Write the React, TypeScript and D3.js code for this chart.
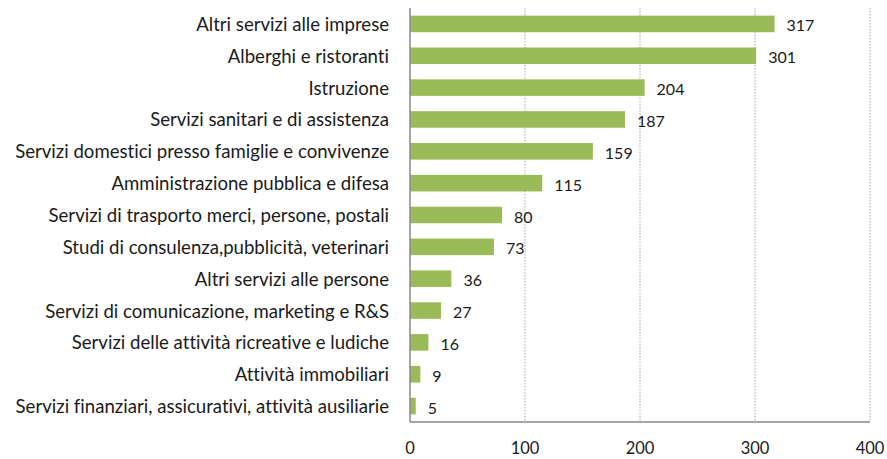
import React from "react";
import * as d3 from "d3";

const categories = [
  "Altri servizi alle imprese",
  "Alberghi e ristoranti",
  "Istruzione",
  "Servizi sanitari e di assistenza",
  "Servizi domestici presso famiglie e convivenze",
  "Amministrazione pubblica e difesa",
  "Servizi di trasporto merci, persone, postali",
  "Studi di consulenza,pubblicità, veterinari",
  "Altri servizi alle persone",
  "Servizi di comunicazione, marketing e R&S",
  "Servizi delle attività ricreative e ludiche",
  "Attività immobiliari",
  "Servizi finanziari, assicurativi, attività ausiliarie",
];
const values = [317, 301, 204, 187, 159, 115, 80, 73, 36, 27, 16, 9, 5];
const ticks = [0, 100, 200, 300, 400];

const width = 887;
const height = 459;
const margin = { top: 8, right: 17, bottom: 37, left: 410 };
const font = "Lato, 'Open Sans', sans-serif";

export default function App() {
  const x = d3
    .scaleLinear()
    .domain([0, 400])
    .range([margin.left, width - margin.right]);
  const y = d3
    .scaleBand()
    .domain(categories)
    .range([margin.top, height - margin.bottom])
    .paddingInner(0.48)
    .paddingOuter(0.24);

  const y0 = margin.top;
  const y1 = height - margin.bottom;

  return (
    <svg
      width={width}
      height={height}
      style={{
        position: "absolute",
        left: 0,
        top: 0,
        background: "white",
        fontVariantLigatures: "none",
      }}
      fontFamily={font}
    >
      {/* gridlines */}
      {ticks.slice(1).map((t) => (
        <line
          key={t}
          x1={x(t)}
          x2={x(t)}
          y1={y0}
          y2={y1}
          stroke="#a6a6a6"
          strokeDasharray="1.5,1.5"
        />
      ))}
      {/* bars */}
      {categories.map((c, i) => (
        <rect
          key={c}
          x={x(0)}
          y={y(c)}
          width={x(values[i]) - x(0)}
          height={y.bandwidth()}
          fill="#9bbb59"
        />
      ))}
      {/* axes */}
      <line x1={x(0)} x2={x(0)} y1={y0} y2={y1} stroke="#888" strokeWidth={1.5} />
      <line x1={x(0)} x2={x(400)} y1={y1} y2={y1} stroke="#888" strokeWidth={1.5} />
      {/* category labels */}
      {categories.map((c) => (
        <text
          key={c}
          x={x(0) - 21}
          y={y(c)! + y.bandwidth() / 2}
          textAnchor="end"
          dominantBaseline="central"
          fontSize={18.6}
          fill="#1a1a1a"
        >
          {c}
        </text>
      ))}
      {/* value labels */}
      {categories.map((c, i) => (
        <text
          key={c}
          x={x(values[i]) + 12}
          y={y(c)! + y.bandwidth() / 2 + 1}
          dominantBaseline="central"
          fontSize={16}
          fill="#1a1a1a"
        >
          {values[i]}
        </text>
      ))}
      {/* tick labels */}
      {ticks.map((t) => (
        <text
          key={t}
          x={x(t)}
          y={448}
          textAnchor="middle"
          dominantBaseline="central"
          fontSize={16.5}
          fill="#1a1a1a"
        >
          {t}
        </text>
      ))}
    </svg>
  );
}
